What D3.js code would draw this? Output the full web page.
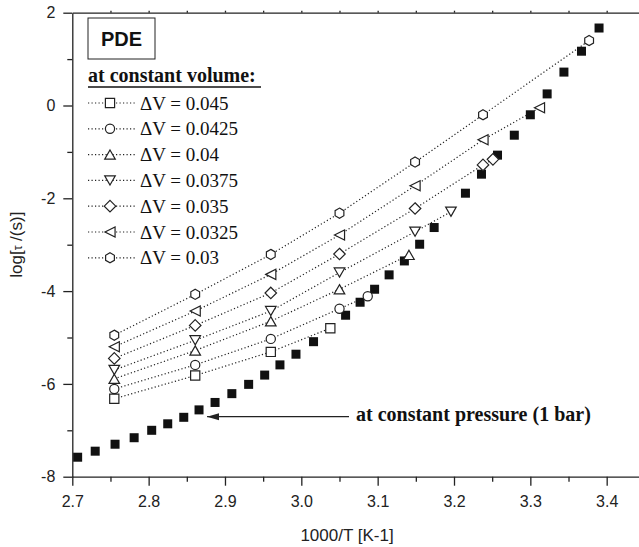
<!DOCTYPE html>
<html>
<head>
<meta charset="utf-8">
<script src="https://cdn.jsdelivr.net/npm/d3@7"></script>
<style>
  body { margin: 0; background: #fff; }
  svg { display: block; overflow: hidden; }
  .axis text { font-family: 'Liberation Sans', Arial, sans-serif; font-size: 16px; fill: #222; }
  .axis path, .axis line { stroke: #222; stroke-width: 1.3; }
</style>
</head>
<body>
<svg id="chart" width="639" height="547"></svg>
<script>
// constant pressure (1 bar), filled squares
var pressureX = [2.707, 2.730, 2.756, 2.781, 2.804, 2.825, 2.846, 2.866, 2.887, 2.909,
                 2.931, 2.952, 2.972, 2.993, 3.016, 3.058, 3.077, 3.096, 3.115, 3.135,
                 3.155, 3.174, 3.215, 3.236, 3.257, 3.279, 3.300, 3.322, 3.344, 3.367, 3.390];
var pressureY = [-7.58, -7.45, -7.30, -7.16, -7.00, -6.86, -6.72, -6.56, -6.40, -6.21,
                 -6.01, -5.81, -5.59, -5.36, -5.09, -4.52, -4.24, -3.96, -3.65, -3.35,
                 -2.99, -2.63, -1.89, -1.48, -1.07, -0.64, -0.20, 0.25, 0.72, 1.17, 1.67];

// constant volume series
var dvLabels = ['0.045', '0.0425', '0.04', '0.0375', '0.035', '0.0325', '0.03'];
var dvShapes = ['square', 'circle', 'triangleUp', 'triangleDown', 'diamond', 'triangleLeft', 'hexagon'];

var dv045X  = [2.755, 2.861, 2.960, 3.038];
var dv045Y  = [-6.32, -5.82, -5.31, -4.80];
var dv0425X = [2.755, 2.861, 2.960, 3.050, 3.087];
var dv0425Y = [-6.11, -5.59, -5.03, -4.38, -4.11];
var dv04X   = [2.755, 2.861, 2.960, 3.050, 3.141];
var dv04Y   = [-5.89, -5.28, -4.65, -3.96, -3.22];
var dv0375X = [2.755, 2.861, 2.960, 3.050, 3.149, 3.196];
var dv0375Y = [-5.70, -5.06, -4.43, -3.60, -2.72, -2.29];
var dv035X  = [2.755, 2.861, 2.960, 3.050, 3.149, 3.238, 3.251];
var dv035Y  = [-5.45, -4.74, -4.04, -3.20, -2.22, -1.28, -1.16];
var dv0325X = [2.755, 2.861, 2.960, 3.050, 3.149, 3.238, 3.312];
var dv0325Y = [-5.20, -4.43, -3.64, -2.79, -1.73, -0.74, -0.05];
var dv03X   = [2.755, 2.861, 2.960, 3.050, 3.149, 3.238, 3.377];
var dv03Y   = [-4.95, -4.07, -3.21, -2.32, -1.22, -0.20, 1.40];

var xTicks = [2.7, 2.8, 2.9, 3.0, 3.1, 3.2, 3.3, 3.4];
var yTicks = [-8, -6, -4, -2, 0, 2];

var seriesX = [dv045X, dv0425X, dv04X, dv0375X, dv035X, dv0325X, dv03X];
var seriesY = [dv045Y, dv0425Y, dv04Y, dv0375Y, dv035Y, dv0325Y, dv03Y];

(function draw() {

  var svg = d3.select('#chart'),
      left = 72.3, top = 12.7, bottom = 476.7;

  var x = d3.scaleLinear().domain([2.7, 3.45]).range([left, left + 0.75 * 763.4]);
  var y = d3.scaleLinear().domain([-8, 2]).range([bottom, top]);

  function shape(type, r) {
    var h, k;
    switch (type) {
      case 'square':
        return 'M' + (-r) + ',' + (-r) + 'H' + r + 'V' + r + 'H' + (-r) + 'Z';
      case 'circle':
        return 'M' + r + ',0A' + r + ',' + r + ' 0 1,1 ' + (-r) + ',0A' + r + ',' + r + ' 0 1,1 ' + r + ',0Z';
      case 'triangleUp':
        return 'M0,' + (-r) + 'L' + (r * 1.15) + ',' + r + 'L' + (-r * 1.15) + ',' + r + 'Z';
      case 'triangleDown':
        return 'M0,' + r + 'L' + (r * 1.15) + ',' + (-r) + 'L' + (-r * 1.15) + ',' + (-r) + 'Z';
      case 'triangleLeft':
        return 'M' + (-r * 1.1) + ',0L' + (r * 1.1) + ',' + (-r * 1.1) + 'L' + (r * 1.1) + ',' + (r * 1.1) + 'Z';
      case 'diamond':
        k = r * 1.25;
        return 'M0,' + (-k) + 'L' + k + ',0L0,' + k + 'L' + (-k) + ',0Z';
      case 'hexagon':
        h = r * 1.1;
        return d3.range(6).map(function (i) {
          var a = Math.PI / 3 * i - Math.PI / 2;
          return (i ? 'L' : 'M') + (h * Math.cos(a)) + ',' + (h * Math.sin(a));
        }).join('') + 'Z';
    }
  }

  // axes
  svg.append('g')
      .attr('class', 'axis')
      .attr('transform', 'translate(0,' + bottom + ')')
      .call(d3.axisBottom(x).tickValues(d3.range(2.75, 3.45, 0.1)).tickSize(5).tickFormat(''))
      .call(function (g) { g.select('.domain').remove(); });

  svg.append('g')
      .attr('class', 'axis')
      .attr('transform', 'translate(0,' + bottom + ')')
      .call(d3.axisBottom(x).tickValues(xTicks).tickSize(9).tickPadding(10).tickSizeOuter(0)
        .tickFormat(function (d) { return d.toFixed(1); }));

  svg.append('g')
      .attr('class', 'axis')
      .attr('transform', 'translate(0,' + top + ')')
      .call(d3.axisTop(x).tickValues(d3.range(2.75, 3.45, 0.05)).tickSize(2).tickSizeOuter(0).tickFormat(''));

  svg.append('g')
      .attr('class', 'axis')
      .attr('transform', 'translate(' + left + ',0)')
      .call(d3.axisLeft(y).tickValues([-7, -5, -3, -1, 1]).tickSize(5).tickFormat(''))
      .call(function (g) { g.select('.domain').remove(); });

  svg.append('g')
      .attr('class', 'axis')
      .attr('transform', 'translate(' + left + ',0)')
      .call(d3.axisLeft(y).tickValues(yTicks).tickSize(9).tickPadding(8).tickSizeOuter(0)
        .tickFormat(function (d) { return String(d); }));

  svg.append('text')
      .attr('x', 347)
      .attr('y', 541)
      .attr('text-anchor', 'middle')
      .attr('font-family', 'Liberation Sans, Arial, sans-serif')
      .attr('font-size', 17)
      .attr('fill', '#222')
      .text('1000/T [K-1]');

  var yl = svg.append('text')
      .attr('transform', 'translate(22,' + ((top + bottom) / 2) + ') rotate(-90)')
      .attr('text-anchor', 'middle')
      .attr('font-family', 'Liberation Sans, Arial, sans-serif')
      .attr('font-size', 17)
      .attr('fill', '#222');
  yl.append('tspan').text('log[');
  yl.append('tspan').attr('font-size', 12).text('τ');
  yl.append('tspan').text(' /(s)]');

  // dotted lines for constant volume
  var line = d3.line()
      .x(function (d) { return x(d[0]); })
      .y(function (d) { return y(d[1]); });

  var series = seriesX.map(function (xs, i) {
    return { shape: dvShapes[i], pts: xs.map(function (v, j) { return [v, seriesY[i][j]]; }) };
  });

  svg.append('g')
    .selectAll('path')
    .data(series)
    .enter().append('path')
      .attr('d', function (d) { return line(d.pts); })
      .attr('fill', 'none')
      .attr('stroke', '#222')
      .attr('stroke-width', 1.2)
      .attr('stroke-dasharray', '1.2,2.3');

  // constant pressure squares
  svg.append('g')
    .selectAll('rect')
    .data(pressureX.map(function (v, i) { return [v, pressureY[i]]; }))
    .enter().append('rect')
      .attr('x', function (d) { return x(d[0]) - 4.5; })
      .attr('y', function (d) { return y(d[1]) - 4.5; })
      .attr('width', 9)
      .attr('height', 9)
      .attr('fill', '#111');

  // open markers
  svg.append('g')
    .selectAll('g')
    .data(series)
    .enter().append('g')
    .selectAll('path')
    .data(function (d) { return d.pts.map(function (p) { return { p: p, shape: d.shape }; }); })
    .enter().append('path')
      .attr('transform', function (d) { return 'translate(' + x(d.p[0]) + ',' + y(d.p[1]) + ')'; })
      .attr('d', function (d) { return shape(d.shape, 4.6); })
      .attr('fill', '#fff')
      .attr('stroke', '#222')
      .attr('stroke-width', 1.2);

  // arrow + label
  svg.append('line')
      .attr('x1', 349).attr('y1', 416.7)
      .attr('x2', x(2.866) + 8).attr('y2', 416.7)
      .attr('stroke', '#222').attr('stroke-width', 1.2);
  svg.append('path')
      .attr('d', 'M' + (x(2.866) + 8) + ',416.7l12,-3.5v7z')
      .attr('fill', '#222');
  svg.append('text')
      .attr('x', 356)
      .attr('y', 421)
      .attr('font-family', 'Liberation Serif, Times New Roman, serif')
      .attr('font-weight', 'bold')
      .attr('font-size', 20)
      .attr('fill', '#111')
      .text('at constant pressure (1 bar)');

  // legend
  svg.append('rect')
      .attr('x', 88).attr('y', 18).attr('width', 67).attr('height', 41)
      .attr('fill', '#fff').attr('stroke', '#222').attr('stroke-width', 1);
  svg.append('text')
      .attr('x', 121.5).attr('y', 46)
      .attr('text-anchor', 'middle')
      .attr('font-family', 'Liberation Sans, Arial, sans-serif')
      .attr('font-weight', 'bold')
      .attr('font-size', 20)
      .attr('fill', '#111')
      .text('PDE');
  svg.append('text')
      .attr('x', 88).attr('y', 82)
      .attr('font-family', 'Liberation Serif, Times New Roman, serif')
      .attr('font-weight', 'bold')
      .attr('font-size', 20)
      .attr('fill', '#111')
      .text('at constant volume:');
  svg.append('line')
      .attr('x1', 88).attr('x2', 261).attr('y1', 87).attr('y2', 87)
      .attr('stroke', '#111').attr('stroke-width', 1.6);

  var legend = svg.append('g')
    .selectAll('g')
    .data(dvLabels)
    .enter().append('g')
      .attr('transform', function (d, i) { return 'translate(0,' + (103 + i * 25.8) + ')'; });

  legend.append('line')
      .attr('x1', 88).attr('x2', 137)
      .attr('stroke', '#222').attr('stroke-width', 1.2)
      .attr('stroke-dasharray', '1.2,2.3');
  legend.append('path')
      .attr('transform', 'translate(110,0)')
      .attr('d', function (d, i) { return shape(dvShapes[i], 4.6); })
      .attr('fill', '#fff')
      .attr('stroke', '#222')
      .attr('stroke-width', 1.2);
  legend.append('text')
      .attr('x', 140)
      .attr('dy', '0.35em')
      .attr('font-family', 'Liberation Serif, Times New Roman, serif')
      .attr('font-size', 19)
      .attr('fill', '#111')
      .text(function (d) { return 'ΔV = ' + d; });
})();
</script>
</body>
</html>
